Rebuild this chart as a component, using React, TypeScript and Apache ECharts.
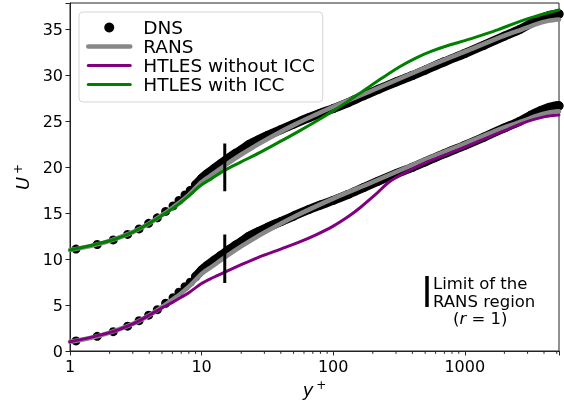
import React, { useEffect, useRef } from 'react';
import * as echarts from 'echarts';

// y+ / U+ values (lower set; the upper set is the same profile shifted by OFFSET)
const DNS_YPLUS = [1.11, 1.61, 2.13, 2.74, 3.35, 3.96, 4.61, 5.33, 6.07, 6.73, 7.48, 8.2, 9.0, 10, 11, 12.5, 14, 16, 18, 20, 23, 27, 32, 40, 50, 65, 80, 100, 130, 170, 220, 300, 400, 500, 700, 1000, 1400, 2000, 2600, 3200, 3800, 4400, 5000, 5200];
const DNS_UPLUS = [1.1, 1.6, 2.1, 2.7, 3.3, 3.9, 4.5, 5.2, 5.8, 6.4, 7.0, 7.5, 8.1, 8.8, 9.3, 9.9, 10.4, 11.0, 11.5, 11.9, 12.5, 13.0, 13.5, 14.1, 14.7, 15.4, 15.9, 16.4, 17.05, 17.8, 18.5, 19.3, 20.0, 20.6, 21.5, 22.4, 23.3, 24.3, 25.0, 25.7, 26.2, 26.55, 26.7, 26.7];

const RANS_YPLUS = [1, 1.5, 2, 3, 4, 5, 6, 7, 8, 10, 12, 15, 20, 30, 50, 100, 200, 500, 1000, 2000, 2700, 3500, 4300, 5200];
const RANS_UPLUS = [1.0, 1.5, 2.0, 2.95, 3.9, 4.8, 5.6, 6.3, 7.0, 8.4, 9.2, 10.2, 11.4, 12.9, 14.6, 16.6, 18.4, 20.85, 22.6, 24.35, 25.0, 25.6, 25.95, 26.1];

const NO_ICC_YPLUS = [1, 2, 3, 4, 5, 6, 7, 8, 10, 12, 15, 20, 27, 40, 55, 74, 100, 132, 160, 210, 266, 350, 500, 700, 1000, 2000, 3000, 4000, 4700, 5200];
const NO_ICC_UPLUS = [1.0, 2.0, 2.95, 3.9, 4.7, 5.3, 5.85, 6.35, 7.35, 7.95, 8.6, 9.4, 10.2, 11.1, 11.85, 12.65, 13.6, 14.7, 15.6, 17.05, 18.4, 19.4, 20.5, 21.3, 22.2, 24.0, 25.0, 25.5, 25.65, 25.7];

const ICC_YPLUS = [1, 2, 3, 4, 5, 6, 7, 8, 10, 12, 15, 20, 27.6, 40, 55, 80, 100, 125, 170, 237, 320, 424, 560, 755, 1000, 1350, 1800, 2420, 3200, 4350, 5200];
const ICC_UPLUS = [1.0, 2.0, 2.95, 3.9, 4.75, 5.5, 6.2, 6.9, 8.1, 8.8, 9.7, 10.6, 11.6, 12.85, 13.95, 15.3, 16.15, 17.05, 18.35, 19.75, 20.95, 21.9, 22.65, 23.3, 23.8, 24.4, 25.0, 25.7, 26.3, 26.85, 27.15];

const OFFSET = 10;

// "Limit of the RANS region" marks
const LIMIT_YPLUS = 15;
const LIMIT_LOWER = [7.4, 12.7];
const LIMIT_UPPER = [17.4, 22.6];

const X_MIN = 1;
const X_MAX = 5200;
const Y_MIN = 0;
const Y_MAX = 37.9;
const Y_INTERVAL = 5;
const MINOR_TICKS = [2, 3, 4, 5, 6, 7, 8, 9, 20, 30, 40, 50, 60, 70, 80, 90, 200, 300, 400, 500, 600, 700, 800, 900, 2000, 3000, 4000, 5000];

const FONT = 'DejaVu Sans';

function pairs(xs: number[], ys: number[], off = 0) {
  return xs.map((x, i) => [x, ys[i] + off]);
}

export default function App() {
  const ref = useRef<HTMLDivElement>(null);
  useEffect(() => {
    const chart = echarts.init(ref.current!, null, { renderer: 'svg' });
    const dnsLower = pairs(DNS_YPLUS, DNS_UPLUS);
    const dnsUpper = pairs(DNS_YPLUS, DNS_UPLUS, OFFSET);
    const dense = (d: number[][]) => d.filter((p) => p[0] >= 9);

    const dnsScatter = (data: number[][]) => ({
      name: 'DNS', type: 'scatter', data, symbol: 'circle', symbolSize: 9,
      itemStyle: { color: '#000', opacity: 1 }, z: 2,
    });
    const dnsBand = (data: number[][]) => ({
      name: 'DNS', type: 'line', data: dense(data), symbol: 'none', smooth: 0.3,
      lineStyle: { color: '#000', width: 9, cap: 'round', join: 'round' }, itemStyle: { color: '#000' }, z: 2,
    });
    const curve = (name: string, data: number[][], color: string, width: number, z: number) => ({
      name, type: 'line', data, symbol: 'none', smooth: 0.3,
      lineStyle: { color, width, cap: 'round', join: 'round' }, itemStyle: { color }, z,
    });
    const bar = (lim: number[]) => ({
      type: 'line', data: [[LIMIT_YPLUS, lim[0]], [LIMIT_YPLUS, lim[1]]], symbol: 'none',
      lineStyle: { color: '#000', width: 3 }, z: 6, silent: true,
    });
    const lineLegend = (name: string, color: string, width: number) => ({
      name, lineStyle: { width, color }, itemStyle: { opacity: 0, borderWidth: 0 },
    });

    const option: any = {
      animation: false,
      textStyle: { fontFamily: FONT },
      grid: { left: 70, right: 5, top: 3, bottom: 54, show: true, borderColor: '#222', borderWidth: 1, backgroundColor: 'transparent' },
      legend: {
        orient: 'vertical', left: 79, top: 12, selectedMode: false,
        itemWidth: 42, itemHeight: 10, itemGap: 0,
        padding: [6, 8, 8, 7],
        backgroundColor: 'rgba(255,255,255,0.85)', borderColor: '#d5d5d5', borderWidth: 1, borderRadius: 4,
        textStyle: { fontFamily: FONT, fontSize: 18.5, color: '#000', padding: [0, 0, 0, 8] },
        data: [
          { name: 'DNS', icon: 'circle', itemStyle: { color: '#000', opacity: 1 } },
          lineLegend('RANS', '#888888', 4.5),
          lineLegend('HTLES without ICC', '#800080', 3),
          lineLegend('HTLES with ICC', '#008000', 3),
        ],
      },
      xAxis: {
        type: 'log', logBase: 10, min: X_MIN, max: X_MAX,
        name: '{a|y}{b|+}', nameLocation: 'middle', nameGap: 26,
        nameTextStyle: {
          rich: {
            a: { fontFamily: FONT, fontSize: 18, fontStyle: 'italic', color: '#000' },
            b: { fontFamily: FONT, fontSize: 12, color: '#000', padding: [0, 0, 10, 3] },
          },
        },
        axisLine: { show: true, lineStyle: { color: '#222', width: 1 } },
        axisTick: { show: true, inside: false, length: 4.5, lineStyle: { color: '#222' } },
        axisLabel: {
          fontFamily: FONT, fontSize: 16, color: '#000', margin: 7,
          formatter: (v: number) => {
            const l = Math.log10(v);
            return Math.abs(l - Math.round(l)) < 1e-6 ? String(Math.round(v)) : '';
          },
        },
        splitLine: { show: false },
        minorTick: { show: false },
      },
      yAxis: {
        type: 'value', min: Y_MIN, max: Y_MAX, interval: Y_INTERVAL,
        name: '{a|U}{b|+}', nameLocation: 'middle', nameGap: 35, nameRotate: 90,
        nameTextStyle: {
          rich: {
            a: { fontFamily: FONT, fontSize: 18, fontStyle: 'italic', color: '#000' },
            b: { fontFamily: FONT, fontSize: 12, color: '#000', padding: [0, 0, 10, 3] },
          },
        },
        axisLine: { show: true, lineStyle: { color: '#222', width: 1 } },
        axisTick: { show: true, inside: false, length: 4.5, lineStyle: { color: '#222' } },
        axisLabel: {
          fontFamily: FONT, fontSize: 16, color: '#000', margin: 7,
          formatter: (v: number) => (Math.abs(v % Y_INTERVAL) < 1e-9 ? String(v) : ''),
        },
        splitLine: { show: false },
      },
      series: [
        dnsScatter(dnsLower),
        dnsBand(dnsLower),
        dnsScatter(dnsUpper),
        dnsBand(dnsUpper),
        curve('RANS', pairs(RANS_YPLUS, RANS_UPLUS), '#888888', 4.5, 3),
        curve('RANS', pairs(RANS_YPLUS, RANS_UPLUS, OFFSET), '#888888', 4.5, 3),
        curve('HTLES without ICC', pairs(NO_ICC_YPLUS, NO_ICC_UPLUS), '#800080', 3, 4),
        curve('HTLES with ICC', pairs(ICC_YPLUS, ICC_UPLUS, OFFSET), '#008000', 3, 4),
        bar(LIMIT_LOWER),
        bar(LIMIT_UPPER),
        {
          type: 'custom', coordinateSystem: 'cartesian2d', clip: false, silent: true, z: 6,
          data: MINOR_TICKS.map((v) => [v, Y_MIN]),
          renderItem: (_p: any, api: any) => {
            const pt = api.coord([api.value(0), Y_MIN]);
            return {
              type: 'line',
              shape: { x1: pt[0], y1: pt[1], x2: pt[0], y2: pt[1] + 2.8 },
              style: { stroke: '#222', lineWidth: 1 },
            };
          },
        },
      ],
      graphic: [
        { type: 'line', shape: { x1: 427, y1: 276, x2: 427, y2: 307 }, style: { stroke: '#000', lineWidth: 3.5 } },
        { type: 'text', x: 433, y: 283.5, style: { text: 'Limit of the', font: `16.5px "${FONT}"`, fill: '#000', verticalAlign: 'middle' } },
        { type: 'text', x: 433, y: 301, style: { text: 'RANS region', font: `16.5px "${FONT}"`, fill: '#000', verticalAlign: 'middle' } },
        {
          type: 'text', x: 453, y: 318.5,
          style: {
            text: '({i|r} = 1)', font: `16.5px "${FONT}"`, fill: '#000', verticalAlign: 'middle',
            rich: { i: { fontFamily: FONT, fontSize: 16.5, fontStyle: 'italic', fill: '#000' } },
          },
        },
      ],
    };
    chart.setOption(option);
    return () => chart.dispose();
  }, []);
  return <div ref={ref} style={{ position: 'fixed', left: 0, top: 0, width: 564, height: 405 }} />;
}
